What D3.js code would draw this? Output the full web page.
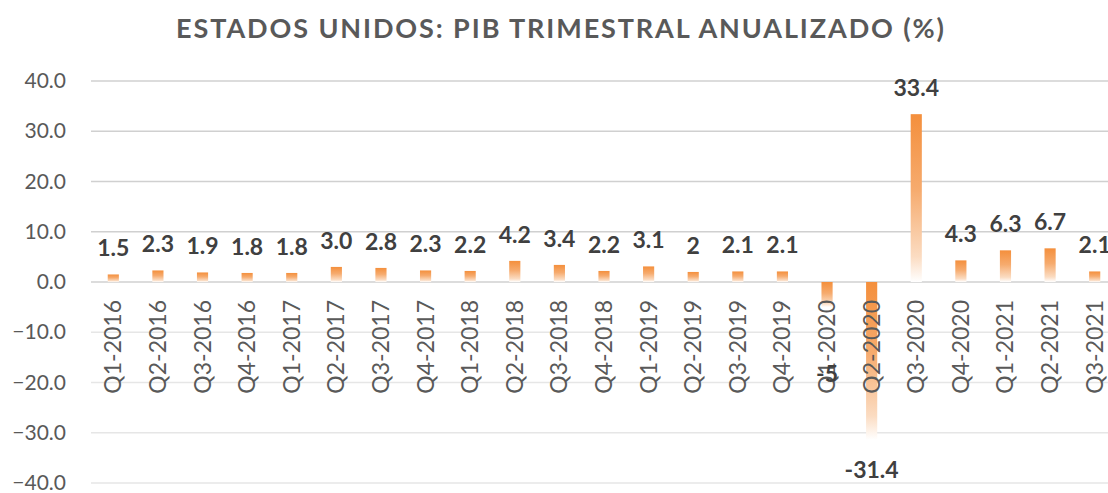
<!DOCTYPE html>
<html>
<head>
<meta charset="utf-8">
<style>
  body { margin: 0; background: #fff; }
  svg { display: block; font-family: Lato, "Open Sans", sans-serif; }
</style>
</head>
<body>
<svg id="chart" width="1108" height="493"></svg>
<script src="https://cdn.jsdelivr.net/npm/d3@7"></script>
<script>
// quarters shown on the x axis
var quarters = ["Q1-2016", "Q2-2016", "Q3-2016", "Q4-2016",
                "Q1-2017", "Q2-2017", "Q3-2017", "Q4-2017",
                "Q1-2018", "Q2-2018", "Q3-2018", "Q4-2018",
                "Q1-2019", "Q2-2019", "Q3-2019", "Q4-2019",
                "Q1-2020", "Q2-2020", "Q3-2020", "Q4-2020",
                "Q1-2021", "Q2-2021", "Q3-2021"];
// annualized quarterly GDP growth (%)
var gdp = [1.5, 2.3, 1.9, 1.8, 1.8, 3.0, 2.8, 2.3, 2.2, 4.2, 3.4, 2.2,
           3.1, 2, 2.1, 2.1, -5, -31.4, 33.4, 4.3, 6.3, 6.7, 2.1];
// data labels as printed in the chart
var gdpLabels = ["1.5", "2.3", "1.9", "1.8", "1.8", "3.0", "2.8", "2.3", "2.2", "4.2", "3.4", "2.2",
                 "3.1", "2", "2.1", "2.1", "-5", "-31.4", "33.4", "4.3", "6.3", "6.7", "2.1"];
var yTicks = [40, 30, 20, 10, 0, -10, -20, -30, -40];

var svg = d3.select("#chart");
var width = 1108, height = 493;
var plotLeft = 91, plotRight = 1117, plotTop = 81, plotBottom = 483;

var x = d3.scaleBand().domain(quarters).range([plotLeft, plotRight]).paddingInner(0.75).paddingOuter(0.375);
var y = d3.scaleLinear().domain([-40, 40]).range([plotBottom, plotTop]);

var grad = svg.append("defs").append("linearGradient")
    .attr("id", "barGrad")
    .attr("x1", 0).attr("y1", 0).attr("x2", 0).attr("y2", 1);
grad.append("stop").attr("offset", "0%").attr("stop-color", "#f48f3c");
grad.append("stop").attr("offset", "45%").attr("stop-color", "#f6ab6e");
grad.append("stop").attr("offset", "85%").attr("stop-color", "#fbdcc2");
grad.append("stop").attr("offset", "100%").attr("stop-color", "#ffffff");

// title
svg.append("text")
    .attr("x", 561).attr("y", 38)
    .attr("text-anchor", "middle")
    .attr("font-size", 27).attr("font-weight", "bold")
    .attr("fill", "#595959")
    .attr("letter-spacing", 1.9)
    .text("ESTADOS UNIDOS: PIB TRIMESTRAL ANUALIZADO (%)");

// gridlines
svg.append("g").selectAll("line")
  .data(yTicks)
  .enter().append("line")
    .attr("x1", plotLeft).attr("x2", width)
    .attr("y1", function(d) { return y(d); })
    .attr("y2", function(d) { return y(d); })
    .attr("stroke", function(d) { return d >= 0 ? "#d0d0d0" : "#e6e6e6"; })
    .attr("stroke-width", 1.3);

// y axis labels
var yAxis = svg.append("g")
    .attr("transform", "translate(66,0)")
    .call(d3.axisLeft(y).tickValues(yTicks).tickSize(0).tickPadding(0).tickFormat(d3.format(".1f")));
yAxis.select(".domain").remove();
yAxis.selectAll("text")
    .attr("font-family", "Lato, 'Open Sans', sans-serif")
    .attr("font-size", 21)
    .attr("fill", "#595959");

// bars
svg.append("g").selectAll("rect")
  .data(gdp)
  .enter().append("rect")
    .attr("x", function(d, i) { return x(quarters[i]); })
    .attr("width", x.bandwidth())
    .attr("y", function(d) { return y(Math.max(0, d)); })
    .attr("height", function(d) { return Math.abs(y(d) - y(0)); })
    .attr("fill", "url(#barGrad)");

// x axis labels (rotated)
svg.append("g").selectAll("text")
  .data(quarters)
  .enter().append("text")
    .attr("transform", function(d) {
      return "translate(" + (x(d) + x.bandwidth() / 2 + 8) + "," + (y(0) + 18) + ") rotate(-90)";
    })
    .attr("text-anchor", "end")
    .attr("font-size", 23)
    .attr("fill", "#595959")
    .text(function(d) { return d; });

// data labels
svg.append("g").selectAll("text")
  .data(gdp)
  .enter().append("text")
    .attr("x", function(d, i) { return x(quarters[i]) + x.bandwidth() / 2; })
    .attr("y", function(d, i) {
      if (d >= 0) return y(d) - 18;
      // Excel pushed the small negative label down over the axis text
      if (d > -10) return y(d) + 75;
      return y(d) + 38;
    })
    .attr("text-anchor", "middle")
    .attr("font-size", 23).attr("font-weight", "bold")
    .attr("fill", "#404040")
    .text(function(d, i) { return gdpLabels[i]; });
</script>
</body>
</html>
